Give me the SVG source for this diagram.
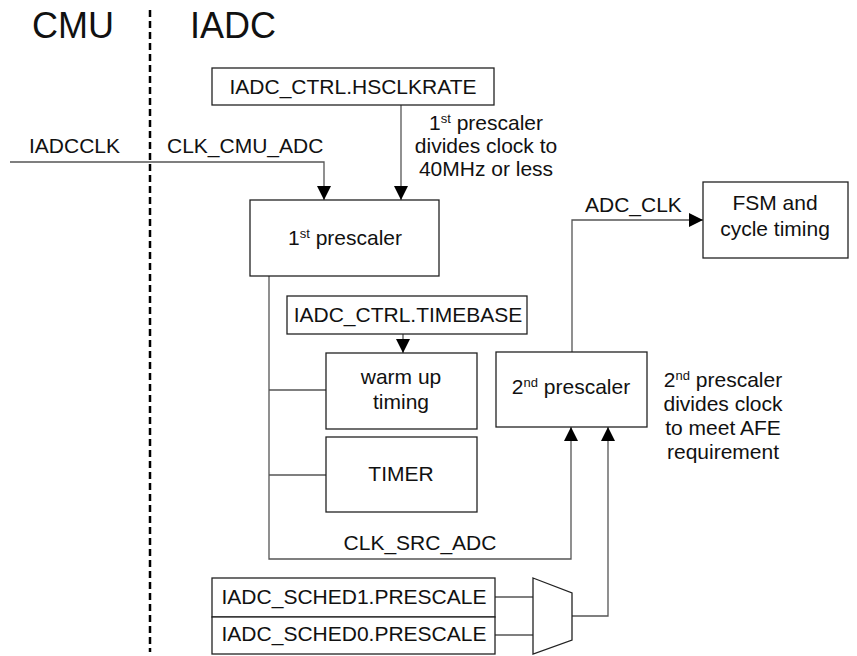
<svg xmlns="http://www.w3.org/2000/svg" width="857" height="656" viewBox="0 0 857 656">
<style>
text{font-family:"Liberation Sans",Arial,sans-serif;font-size:21px;fill:#111}
.t{font-size:36px}
.m{text-anchor:middle}
.sup{font-size:13px}
.box{fill:#fff;stroke:#222;stroke-width:1.3}
.c{fill:none;stroke:#555;stroke-width:1.3}
</style>
<defs>
<marker id="ah" markerUnits="userSpaceOnUse" markerWidth="14" markerHeight="14" refX="14" refY="7" orient="auto">
<path d="M0,0 L14,7 L0,14 z" fill="#000"/>
</marker>
</defs>
<g id="labels">
<text class="t" x="32" y="38">CMU</text>
<text class="t" x="190" y="38">IADC</text>
<line x1="150" y1="10" x2="150" y2="652" stroke="#000" stroke-width="2.5" stroke-dasharray="7 4"/>
</g>
<g id="connectors">
<path class="c" d="M10,162 H324 V200" marker-end="url(#ah)"/>
<path class="c" d="M401,105 V200" marker-end="url(#ah)"/>
<path class="c" d="M572,352 V220 H703" marker-end="url(#ah)"/>
<path class="c" d="M269,276 V559 H571 V427" marker-end="url(#ah)"/>
<path class="c" d="M269,390 H326"/>
<path class="c" d="M269,475 H326"/>
<path class="c" d="M403,334 V353" marker-end="url(#ah)"/>
<path class="c" d="M495,597 H533"/>
<path class="c" d="M495,635 H533"/>
<path class="c" d="M572,616 H608 V427" marker-end="url(#ah)"/>
<text x="29" y="153">IADCCLK</text>
<text x="167" y="153">CLK_CMU_ADC</text>
<text class="m" x="486" y="130">1<tspan class="sup" dy="-7">st</tspan><tspan dy="7"> prescaler</tspan></text>
<text class="m" x="486" y="153">divides clock to</text>
<text class="m" x="486" y="176">40MHz or less</text>
<text x="585" y="212">ADC_CLK</text>
<text class="m" x="420" y="550">CLK_SRC_ADC</text>
<text class="m" x="723" y="387">2<tspan class="sup" dy="-7">nd</tspan><tspan dy="7"> prescaler</tspan></text>
<text class="m" x="723" y="411">divides clock</text>
<text class="m" x="723" y="435">to meet AFE</text>
<text class="m" x="723" y="459">requirement</text>
</g>
<g id="hsclkrate">
<rect class="box" x="212" y="68" width="282" height="37"/>
<text class="m" x="353" y="94">IADC_CTRL.HSCLKRATE</text>
</g>
<g id="prescaler1">
<rect class="box" x="250" y="200" width="189" height="76"/>
<text class="m" x="345" y="245">1<tspan class="sup" dy="-7">st</tspan><tspan dy="7"> prescaler</tspan></text>
</g>
<g id="fsm">
<rect class="box" x="703" y="182" width="145" height="76"/>
<text class="m" x="775" y="210">FSM and</text>
<text class="m" x="775" y="236">cycle timing</text>
</g>
<g id="timebase">
<rect class="box" x="287" y="296" width="240" height="38"/>
<text class="m" x="408" y="322">IADC_CTRL.TIMEBASE</text>
</g>
<g id="warmup">
<rect class="box" x="326" y="353" width="151" height="76"/>
<text class="m" x="401" y="384">warm up</text>
<text class="m" x="401" y="409">timing</text>
</g>
<g id="timer">
<rect class="box" x="326" y="437" width="151" height="75"/>
<text class="m" x="401" y="481">TIMER</text>
</g>
<g id="prescaler2">
<rect class="box" x="496" y="352" width="151" height="75"/>
<text class="m" x="571" y="394">2<tspan class="sup" dy="-7">nd</tspan><tspan dy="7"> prescaler</tspan></text>
</g>
<g id="sched1">
<rect class="box" x="212" y="578" width="283" height="39"/>
<text class="m" x="354" y="604">IADC_SCHED1.PRESCALE</text>
</g>
<g id="sched0">
<rect class="box" x="212" y="617" width="283" height="37"/>
<text class="m" x="354" y="641">IADC_SCHED0.PRESCALE</text>
</g>
<g id="mux">
<polygon class="box" points="533,578 572,593 572,640 533,654"/>
</g>
</svg>
